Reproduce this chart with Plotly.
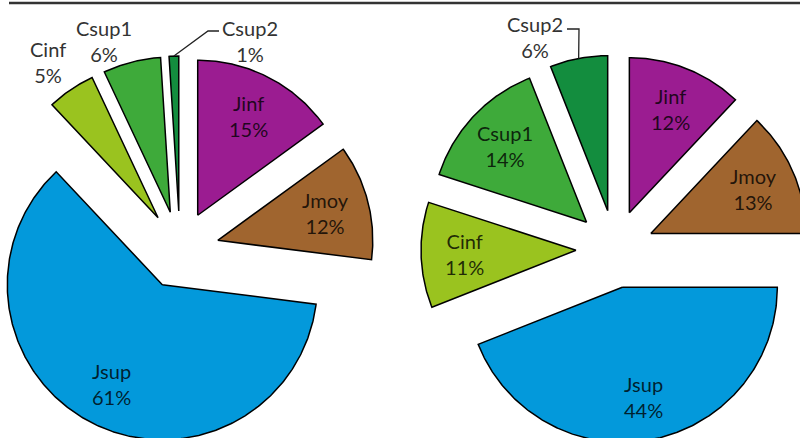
import numpy as np
import plotly.graph_objects as go

# Shares (%) per class, for the two situations
categories = ["Jinf", "Jmoy", "Jsup", "Cinf", "Csup1", "Csup2"]
left_values = [15, 12, 61, 5, 6, 1]
right_values = [12, 13, 44, 11, 14, 6]

colors = {
    "Jinf": "#9B1C91",
    "Jmoy": "#A0652F",
    "Jsup": "#0399DB",
    "Cinf": "#9AC31F",
    "Csup1": "#3EAA3A",
    "Csup2": "#138D3E",
}

W, H = 800, 438
RADIUS = 155
EXPLODE = 39
LABEL_FRAC = 0.72
FONT = dict(family="Lato, Open Sans, sans-serif", size=20, color="rgba(0,0,0,0.8)")
OUT_FONT = dict(family="Lato, Open Sans, sans-serif", size=20, color="#333333")

fig = go.Figure()


def add_pie(cx, cy, values, outside):
    """Exploded pie starting at 12 o'clock, running clockwise.
    `outside` maps category -> (label x, label y, leader elbow or None)."""
    total = float(sum(values))
    cum = 0.0
    for cat, v in zip(categories, values):
        a0 = cum / total * 2 * np.pi
        a1 = (cum + v) / total * 2 * np.pi
        cum += v
        mid = (a0 + a1) / 2
        ox = cx + EXPLODE * np.sin(mid)
        oy = cy - EXPLODE * np.cos(mid)
        t = np.linspace(a0, a1, max(12, int(v * 6)))
        xs = np.concatenate([[ox], ox + RADIUS * np.sin(t), [ox]])
        ys = np.concatenate([[oy], oy - RADIUS * np.cos(t), [oy]])
        fig.add_trace(go.Scatter(
            x=xs, y=ys, mode="lines", fill="toself",
            fillcolor=colors[cat], line=dict(color="black", width=1.5),
            name=cat, text=f"{cat}: {v}%", hoverinfo="text", showlegend=False,
        ))
        label = f"{cat}<br>{v}%"
        if cat in outside:
            lx, ly, elbow = outside[cat]
            fig.add_annotation(x=lx, y=ly, text=label, showarrow=False, font=OUT_FONT)
            if elbow is not None:
                ex = ox + RADIUS * np.sin(mid)
                ey = oy - RADIUS * np.cos(mid)
                fig.add_trace(go.Scatter(
                    x=[elbow[0], elbow[1], ex], y=[elbow[2], elbow[2], ey],
                    mode="lines", line=dict(color="#222", width=1.3),
                    hoverinfo="skip", showlegend=False,
                ))
        else:
            fig.add_annotation(
                x=ox + LABEL_FRAC * RADIUS * np.sin(mid),
                y=oy - LABEL_FRAC * RADIUS * np.cos(mid),
                text=label, showarrow=False, font=FONT,
            )


add_pie(180, 250, left_values, {
    "Cinf": (48, 62, None),
    "Csup1": (104, 41, None),
    "Csup2": (250, 41, (219, 208, 31)),
})
add_pie(615, 249, right_values, {
    "Csup2": (535, 37, (567, 579, 29)),
})

# rule along the top edge
fig.add_shape(type="line", x0=9, x1=W, y0=3, y1=3,
              line=dict(color="#333333", width=2.5))

fig.update_xaxes(range=[0, W], visible=False, fixedrange=True)
fig.update_yaxes(range=[H, 0], visible=False, fixedrange=True)
fig.update_layout(
    width=W, height=H,
    margin=dict(l=0, r=0, t=0, b=0),
    paper_bgcolor="white", plot_bgcolor="white",
    showlegend=False,
)

fig.write_html("out.html")
